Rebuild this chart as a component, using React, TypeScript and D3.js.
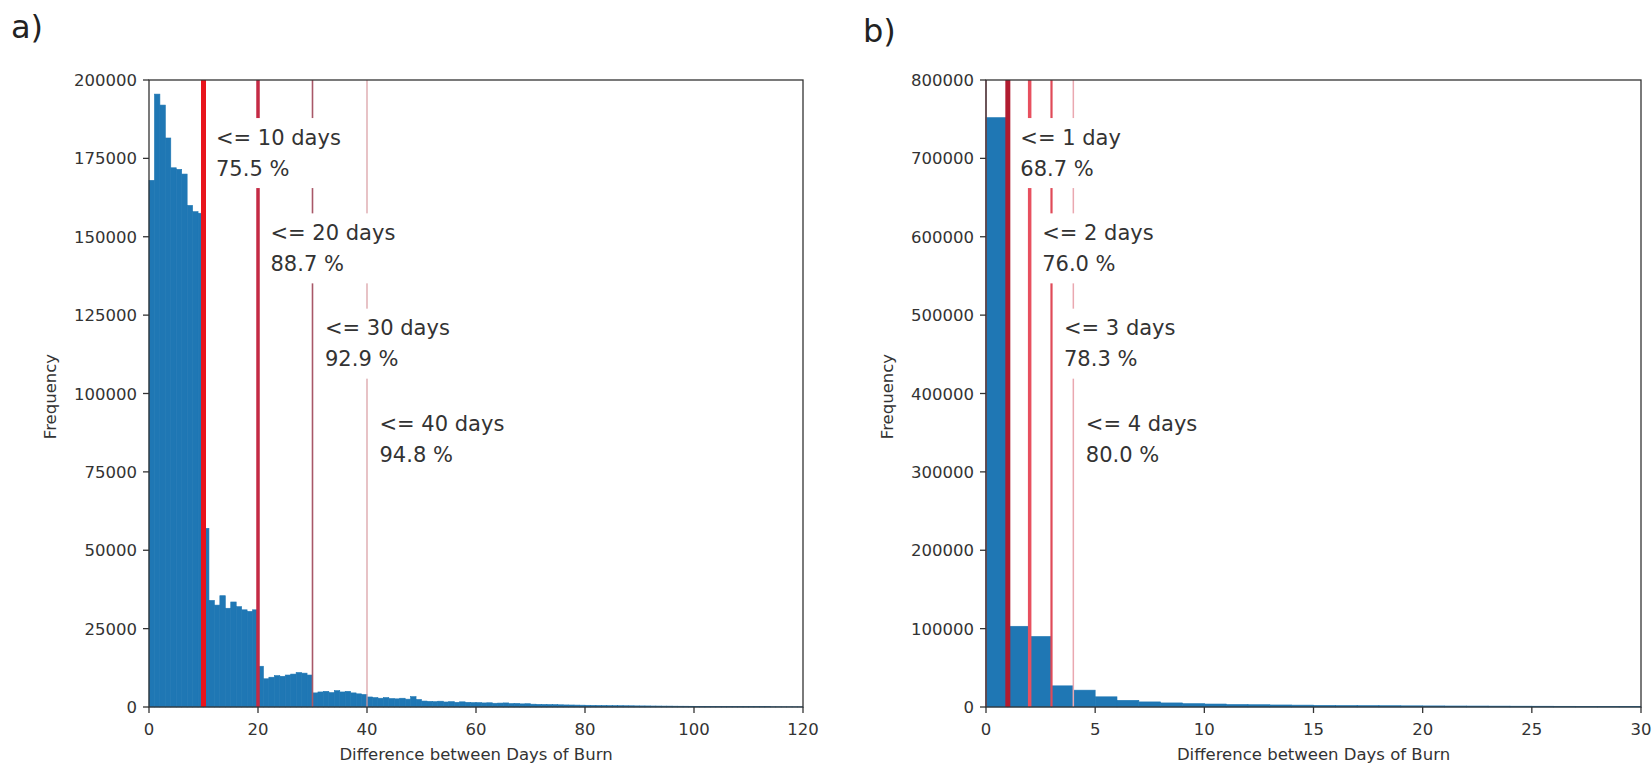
import React from 'react';
import * as d3 from 'd3';

// ---------- DATA ----------
// Panel a) histogram counts, 1-day bins from 0 to 120
const leftCounts = [
  168000, 195500, 192000, 181500, 172000, 171500, 170000, 160000, 158000, 157500,
  57000, 34000, 32500, 35500, 31500, 33500, 32000, 31000, 30500, 31000,
  13000, 9000, 9500, 10000, 9800, 10200, 10500, 11000, 10800, 10200,
  4500, 4800, 5000, 4600, 5200, 4800, 5000, 4500, 4200, 4000,
  3200, 3000, 2800, 3000, 2700, 2600, 2800, 2500, 3300, 2400,
  1900, 1800, 1700, 1850, 1600, 1700, 1500, 1650, 1500, 1400,
  1400, 1300, 1350, 1200, 1250, 1300, 1100, 1150, 1000, 1050,
  900, 850, 820, 780, 760, 700, 660, 640, 610, 580,
  550, 530, 500, 490, 450, 440, 420, 400, 390, 360,
  350, 340, 320, 310, 290, 285, 265, 250, 245, 230,
  220, 215, 200, 195, 180, 175, 160, 155, 140, 135,
  120, 115, 100, 98, 90, 88, 80, 78, 70, 66,
];
// Panel b) histogram counts, 1-day bins from 0 to 30
const rightCounts = [
  752000, 103000, 90000, 27000, 21500, 13000, 8500, 6500, 5200, 4300,
  3800, 3200, 2900, 2600, 2400, 2100, 1900, 1800, 1650, 1500,
  1400, 1300, 1250, 1150, 1050, 1000, 920, 850, 800, 760,
];

const leftThresholds = [10, 20, 30, 40];
const leftPercents = ['75.5', '88.7', '92.9', '94.8'];
const rightThresholds = [1, 2, 3, 4];
const rightPercents = ['68.7', '76.0', '78.3', '80.0'];
const rightExtraLines = [0];

const leftXTicks = [0, 20, 40, 60, 80, 100, 120];
const leftYTicks = [0, 25000, 50000, 75000, 100000, 125000, 150000, 175000, 200000];
const rightXTicks = [0, 5, 10, 15, 20, 25, 30];
const rightYTicks = [0, 100000, 200000, 300000, 400000, 500000, 600000, 700000, 800000];

const panelLetters = ['a)', 'b)'];
const xLabel = 'Difference between Days of Burn';
const yLabel = 'Frequency';

// ---------- STYLES ----------
const BAR = '#1f77b4';
const FONT = '"DejaVu Sans", Verdana, sans-serif';
const leftLineStyles = [
  { c: '#e8141c', w: 5 },
  { c: '#c42a45', w: 3.5 },
  { c: '#a85868', w: 1.6 },
  { c: '#d89aa0', w: 1.2 },
];
const rightLineStyles = [
  { c: '#b01c30', w: 5 },
  { c: '#e8505f', w: 3.5 },
  { c: '#e04a58', w: 2.2 },
  { c: '#eaa8b0', w: 1.5 },
];
const rightExtraStyle = { c: '#c87080', w: 1.5 };

type LS = { c: string; w: number };

interface PanelProps {
  x0: number; x1: number; y0: number; y1: number;
  xMax: number; yMax: number;
  counts: number[];
  xTicks: number[]; yTicks: number[];
  thresholds: number[]; percents: string[];
  lineStyles: LS[];
  extraLines?: number[]; extraStyle?: LS;
  letter: string; letterX: number; letterY: number;
  unit: (t: number) => string;
}

function Panel(p: PanelProps) {
  const xs = d3.scaleLinear().domain([0, p.xMax]).range([p.x0, p.x1]);
  const ys = d3.scaleLinear().domain([0, p.yMax]).range([p.y1, p.y0]);
  const h = p.y1 - p.y0;
  const annFont = 21;
  const tickFont = 16.5;
  return (
    <g>
      <text x={p.letterX} y={p.letterY} fontSize={32} fontFamily={FONT} fill="#222">{p.letter}</text>
      {/* bars */}
      {p.counts.map((c, i) => (
        <rect key={i} x={xs(i)} y={ys(c)} width={xs(i + 1) - xs(i)} height={ys(0) - ys(c)} fill={BAR} stroke={BAR} strokeWidth={0.6} />
      ))}
      {/* extra lines */}
      {(p.extraLines || []).map((t, i) => (
        <line key={'e' + i} x1={xs(t)} x2={xs(t)} y1={p.y0} y2={p.y1} stroke={p.extraStyle!.c} strokeWidth={p.extraStyle!.w} />
      ))}
      {/* threshold lines */}
      {p.thresholds.map((t, i) => (
        <line key={'l' + i} x1={xs(t)} x2={xs(t)} y1={p.y0} y2={p.y1} stroke={p.lineStyles[i].c} strokeWidth={p.lineStyles[i].w} />
      ))}
      {/* annotations */}
      {p.thresholds.map((t, i) => {
        const tx = xs(t) + 12.5;
        const cy = p.y0 + h * (0.091 + 0.152 * i);
        const l1 = '<= ' + t + ' ' + p.unit(t);
        const l2 = p.percents[i] + ' %';
        const w = Math.max(l1.length, l2.length) * 0.6 * annFont;
        return (
          <g key={'a' + i}>
            <rect x={tx - 7} y={cy - 19} width={w + 14} height={70} fill="#fff" />
            <text x={tx} y={cy + 7.6} fontSize={annFont} fontFamily={FONT} fill="#333">{l1}</text>
            <text x={tx} y={cy + 31 + 7.6} fontSize={annFont} fontFamily={FONT} fill="#333">{l2}</text>
          </g>
        );
      })}
      {/* spines */}
      <rect x={p.x0} y={p.y0} width={p.x1 - p.x0} height={h} fill="none" stroke="#333" strokeWidth={1.3} />
      {/* x ticks */}
      {p.xTicks.map((t) => (
        <g key={'xt' + t}>
          <line x1={xs(t)} x2={xs(t)} y1={p.y1} y2={p.y1 + 6} stroke="#333" strokeWidth={1.3} />
          <text x={xs(t)} y={p.y1 + 28} textAnchor="middle" fontSize={tickFont} fontFamily={FONT} fill="#333">{t}</text>
        </g>
      ))}
      {/* y ticks */}
      {p.yTicks.map((t) => (
        <g key={'yt' + t}>
          <line x1={p.x0 - 6} x2={p.x0} y1={ys(t)} y2={ys(t)} stroke="#333" strokeWidth={1.3} />
          <text x={p.x0 - 12} y={ys(t) + 6} textAnchor="end" fontSize={tickFont} fontFamily={FONT} fill="#333">{t}</text>
        </g>
      ))}
      <text x={(p.x0 + p.x1) / 2} y={p.y1 + 53} textAnchor="middle" fontSize={tickFont} fontFamily={FONT} fill="#333">{xLabel}</text>
      <text transform={`translate(${p.x0 - 93},${(p.y0 + p.y1) / 2 + 3}) rotate(-90)`} textAnchor="middle" fontSize={tickFont} fontFamily={FONT} fill="#333">{yLabel}</text>
    </g>
  );
}

export default function App() {
  return (
    <svg width={1652} height={764} style={{ position: 'absolute', left: 0, top: 0, background: '#fff' }}>
      <rect x={0} y={0} width={1652} height={764} fill="#fff" />
      <Panel
        x0={149} x1={803} y0={80} y1={707}
        xMax={120} yMax={200000}
        counts={leftCounts}
        xTicks={leftXTicks} yTicks={leftYTicks}
        thresholds={leftThresholds} percents={leftPercents}
        lineStyles={leftLineStyles}
        letter={panelLetters[0]} letterX={11} letterY={38}
        unit={() => 'days'}
      />
      <Panel
        x0={986} x1={1641} y0={80} y1={707}
        xMax={30} yMax={800000}
        counts={rightCounts}
        xTicks={rightXTicks} yTicks={rightYTicks}
        thresholds={rightThresholds} percents={rightPercents}
        lineStyles={rightLineStyles}
        extraLines={rightExtraLines} extraStyle={rightExtraStyle}
        letter={panelLetters[1]} letterX={863} letterY={42}
        unit={(t) => (t === 1 ? 'day' : 'days')}
      />
    </svg>
  );
}
